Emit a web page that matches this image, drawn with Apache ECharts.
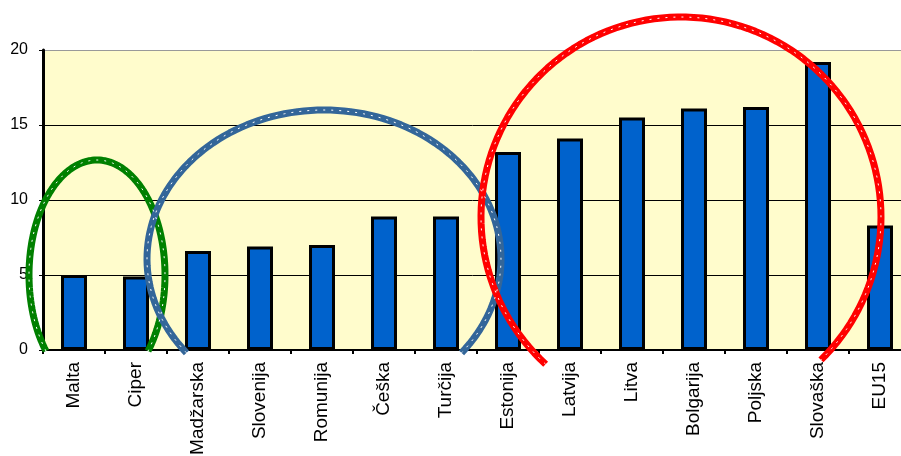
<!DOCTYPE html>
<html>
<head>
<meta charset="utf-8">
<script src="https://cdn.jsdelivr.net/npm/echarts@6/dist/echarts.min.js"></script>
<style>
html,body{margin:0;padding:0;background:#fff;}
#c{width:901px;height:456px;}
</style>
</head>
<body>
<div id="c"></div>
<script>
const categories = ['Malta','Ciper','Madžarska','Slovenija','Romunija','Češka','Turčija','Estonija','Latvija','Litva','Bolgarija','Poljska','Slovaška','EU15'];
const values = [5.0, 4.9, 6.6, 6.9, 7.0, 8.9, 8.9, 13.2, 14.1, 15.5, 16.1, 16.2, 19.2, 8.3];
const yTicks = [0, 5, 10, 15, 20];

const FONT = '"Liberation Sans", Arial, sans-serif';

// hand-drawn annotation loops (decoration, drawn as elliptical arcs)
function arcPoints(cx, cy, rx, ry, a0, a1) {
  const pts = [];
  const n = 120;
  for (let i = 0; i <= n; i++) {
    const t = (a0 + (a1 - a0) * i / n) * Math.PI / 180;
    pts.push([cx + rx * Math.cos(t), cy + ry * Math.sin(t)]);
  }
  return pts;
}
function loop(cx, cy, rx, ry, a0, a1, color) {
  const pts = arcPoints(cx, cy, rx, ry, a0, a1);
  return [
    { type: 'polyline', z: 100, silent: true, shape: { points: pts },
      style: { fill: null, stroke: color, lineWidth: 7, lineJoin: 'round' } },
    { type: 'polyline', z: 101, silent: true, shape: { points: pts },
      style: { fill: null, stroke: '#ffffff', lineWidth: 1, lineDash: [2, 6] } }
  ];
}

const chart = echarts.init(document.getElementById('c'), null, { renderer: 'canvas' });
chart.setOption({
  animation: false,
  backgroundColor: '#ffffff',
  grid: { left: 43, top: 50, width: 868, bottom: 106, show: true,
          outerBoundsMode: 'none', containLabel: false,
          backgroundColor: '#FFFCCC', borderWidth: 0 },
  xAxis: {
    type: 'category',
    data: categories,
    axisLine: { show: true, lineStyle: { color: '#000', width: 2 } },
    axisTick: { show: true, alignWithLabel: false, length: 4, lineStyle: { color: '#000', width: 2 } },
    axisLabel: { rotate: 90, margin: 12, fontSize: 19, color: '#000', fontFamily: FONT, interval: 0 },
    splitLine: { show: false }
  },
  yAxis: {
    type: 'value',
    min: yTicks[0], max: yTicks[yTicks.length - 1], interval: 5,
    axisLine: { show: true, lineStyle: { color: '#000', width: 3 } },
    axisTick: { show: true, length: 4, lineStyle: { color: '#000', width: 1 } },
    axisLabel: { margin: 15, fontSize: 16, color: '#000', fontFamily: FONT },
    splitLine: { show: true, lineStyle: { color: ['#000', '#000', '#000', '#000', '#999'], width: 1 } }
  },
  series: [{
    type: 'bar',
    data: values,
    barWidth: 26,
    itemStyle: { color: '#0062CC', borderColor: '#000', borderWidth: 3 }
  }],
  graphic: [].concat(
    loop(97, 275, 68, 115, 138.6, 401.4, '#008000'),
    loop(324, 259, 177, 149, 141, 399, '#336699'),
    loop(681, 217, 200, 200, 132.6, 405.6, '#FF0000')
  )
});
</script>
</body>
</html>
